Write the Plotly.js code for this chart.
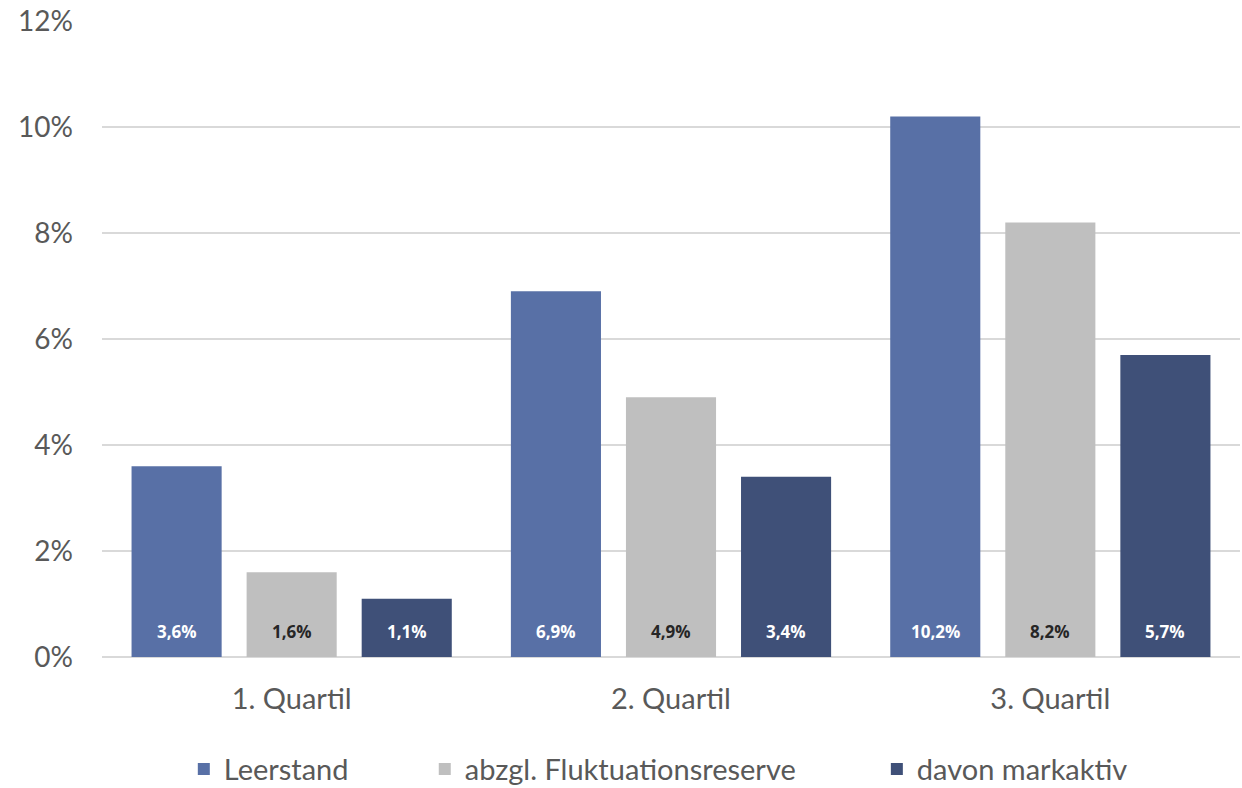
<!DOCTYPE html>
<html>
<head>
<meta charset="utf-8">
<script src="https://cdn.plot.ly/plotly-3.0.1.min.js"></script>
<style>html,body{margin:0;padding:0;background:#fff}#chart{width:1242px;height:788px}</style>
</head>
<body>
<div id="chart"></div>
<script>
// Vacancy rates by quartile
const categories = ['1. Quartil', '2. Quartil', '3. Quartil'];
const seriesNames = ['Leerstand', 'abzgl. Fluktuationsreserve', 'davon markaktiv'];
const leerstand = [3.6, 6.9, 10.2];
const fluktuation = [1.6, 4.9, 8.2];
const markaktiv = [1.1, 3.4, 5.7];
const yTicks = [0, 2, 4, 6, 8, 10, 12];
const yTickLabels = ['0%', '2%', '4%', '6%', '8%', '10%', '12%'];

const colors = ['#5870A6', '#BFBFBF', '#3F5078'];
const labelColors = ['#FFFFFF', '#262626', '#FFFFFF'];
const allSeries = [leerstand, fluktuation, markaktiv];
const fontFamily = 'Lato, "Open Sans", sans-serif';
const bargap = 0.09;
const legendNames = ['legend', 'legend2', 'legend3'];
const legendX = [0.148, 0.342, 0.706];

const fmt = v => v.toFixed(1).replace('.', ',') + '%';

const traces = allSeries.map((vals, i) => ({
  type: 'bar',
  name: seriesNames[i],
  x: categories,
  y: vals,
  marker: {color: colors[i]},
  legend: legendNames[i],
  hoverinfo: 'skip'
}));

// value labels placed near the base of each bar
const annotations = [];
const slot = (1 - bargap) / allSeries.length;
allSeries.forEach((vals, i) => {
  vals.forEach((v, j) => {
    annotations.push({
      xref: 'x', yref: 'y',
      x: j + (i - 1) * slot,
      y: 0,
      yanchor: 'bottom',
      yshift: 12,
      text: '<b>' + fmt(v) + '</b>',
      showarrow: false,
      font: {family: 'Open Sans, sans-serif', size: 17, color: labelColors[i]}
    });
  });
});

const legendBase = {
  orientation: 'h',
  xref: 'container', yref: 'container',
  xanchor: 'left', yanchor: 'middle',
  y: 0.024,
  font: {size: 29, color: '#595959'},
  itemwidth: 30,
  borderwidth: 0,
  bgcolor: 'rgba(0,0,0,0)'
};

const layout = {
  width: 1242, height: 788,
  margin: {l: 102, r: 2, t: 21, b: 131},
  paper_bgcolor: '#fff', plot_bgcolor: '#fff',
  barmode: 'group',
  bargap: bargap,
  bargroupgap: 0.217,
  font: {family: fontFamily, color: '#595959', size: 29},
  xaxis: {
    type: 'category',
    showgrid: false, zeroline: false,
    showline: false, ticks: '',
    ticklabelstandoff: 22,
    tickfont: {size: 29, color: '#595959'}
  },
  yaxis: {
    range: [0, 12],
    tickvals: yTicks, ticktext: yTickLabels,
    showgrid: true, gridcolor: '#D9D9D9', gridwidth: 2,
    zeroline: true, zerolinecolor: '#D9D9D9', zerolinewidth: 2,
    showline: false, ticks: '',
    ticklabelstandoff: 28,
    tickfont: {size: 28, color: '#595959'}
  },
  legend: Object.assign({}, legendBase, {x: legendX[0]}),
  legend2: Object.assign({}, legendBase, {x: legendX[1]}),
  legend3: Object.assign({}, legendBase, {x: legendX[2]}),
  annotations: annotations,
  showlegend: true
};

Plotly.newPlot('chart', traces, layout, {displayModeBar: false, staticPlot: true});
</script>
</body>
</html>
